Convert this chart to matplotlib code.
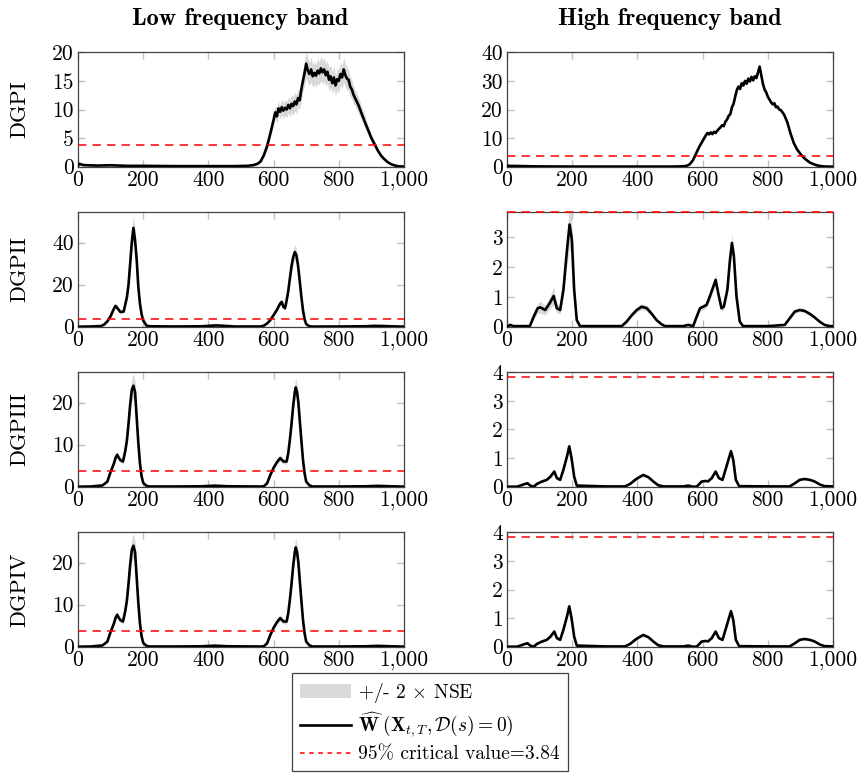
import matplotlib
matplotlib.use('Agg')
import matplotlib.pyplot as plt
from matplotlib.patches import Patch
from matplotlib.lines import Line2D

plt.rcParams['font.family'] = 'serif'
plt.rcParams['font.serif'] = ['cmr10']
plt.rcParams['mathtext.fontset'] = 'cm'
plt.rcParams['axes.formatter.use_mathtext'] = True

# ---- data ----
crit = 3.84
xticks = [0, 200, 400, 600, 800, 1000]
xticklabels = ['0', '200', '400', '600', '800', '1,000']
row_names = ['DGPI', 'DGPII', 'DGPIII', 'DGPIV']

# DGPI, low band
x_low1 = [0, 5, 15, 30, 60, 100, 150, 200, 300, 400,
          480, 520, 540, 550, 560, 570, 580, 590, 600, 605,
          610, 615, 620, 625, 630, 635, 640, 645, 650, 655,
          660, 665, 670, 675, 680, 685, 690, 695, 700, 705,
          710, 715, 720, 725, 730, 735, 740, 745, 750, 755,
          760, 765, 770, 775, 780, 785, 790, 795, 800, 805,
          810, 815, 820, 825, 830, 835, 840, 845, 850, 860,
          870, 880, 890, 900, 910, 920, 930, 940, 950, 960,
          970, 980, 990, 1000]
w_low1 = [0.2, 0.5, 0.3, 0.25, 0.2, 0.25, 0.15, 0.15, 0.1, 0.1,
          0.1, 0.15, 0.3, 0.5, 0.9, 2.0, 3.6, 5.8, 8.2, 9.5,
          8.8, 10.2, 9.6, 10.4, 9.8, 10.3, 10.0, 10.8, 10.2, 11.0,
          10.6, 11.4, 10.9, 12.0, 11.6, 13.5, 15.0, 16.4, 18.0, 16.8,
          16.2, 17.0, 15.8, 16.4, 15.9, 16.8, 16.3, 17.2, 16.5, 17.0,
          16.0, 16.6, 15.2, 15.8, 14.6, 15.6, 14.2, 15.3, 15.0, 16.2,
          15.6, 17.0, 16.0, 15.4, 15.2, 14.0, 13.5, 12.6, 12.0, 10.8,
          9.3, 7.8, 6.4, 5.0, 3.9, 2.8, 1.9, 1.3, 0.8, 0.45,
          0.25, 0.1, 0.05, 0.02]
nse_low1 = [0.05, 0.1, 0.05, 0.05, 0.03, 0.03, 0.02, 0.02, 0.02, 0.02,
            0.02, 0.03, 0.05, 0.08, 0.12, 0.2, 0.3, 0.4, 0.5, 0.6,
            0.6, 0.6, 0.6, 0.7, 0.7, 0.7, 0.7, 0.7, 0.7, 0.8,
            0.8, 0.8, 0.8, 0.8, 0.8, 0.9, 1.0, 1.1, 1.2, 1.1,
            1.0, 1.1, 1.0, 1.0, 1.0, 1.1, 1.0, 1.1, 1.0, 1.1,
            1.0, 1.0, 1.0, 1.0, 0.9, 1.0, 0.9, 1.0, 1.0, 1.0,
            1.0, 1.1, 1.0, 1.0, 0.9, 0.9, 0.8, 0.8, 0.7, 0.7,
            0.6, 0.5, 0.4, 0.35, 0.3, 0.2, 0.15, 0.1, 0.08, 0.05,
            0.03, 0.02, 0.01, 0.01]

# DGPI, high band
x_high1 = [0, 100, 200, 300, 400, 500, 530, 550, 560, 570,
           580, 590, 600, 610, 615, 620, 625, 630, 635, 640,
           645, 650, 655, 660, 665, 670, 675, 680, 685, 690,
           695, 700, 705, 710, 715, 720, 725, 730, 735, 740,
           745, 750, 755, 760, 765, 770, 775, 780, 785, 790,
           795, 800, 805, 810, 815, 820, 825, 830, 835, 840,
           845, 850, 860, 870, 880, 890, 900, 910, 920, 930,
           940, 950, 960, 970, 980, 990, 1000]
w_high1 = [0.3, 0.1, 0.05, 0.05, 0.05, 0.05, 0.1, 0.25, 0.8, 2.2,
           4.6, 7.0, 9.0, 11.0, 11.8, 11.3, 12.0, 11.4, 12.2, 11.8,
           12.6, 13.2, 13.8, 14.5, 14.2, 15.8, 16.5, 17.8, 18.4, 20.8,
           22.0, 24.5, 26.8, 28.0, 27.2, 29.2, 28.4, 30.0, 29.0, 30.8,
           29.8, 31.4, 30.2, 31.6, 31.0, 33.0, 35.0, 32.0, 29.0, 27.0,
           26.0, 24.5, 23.5, 22.5, 21.8, 22.2, 20.8, 21.0, 20.0, 19.8,
           19.0, 18.2, 15.5, 11.5, 8.2, 6.0, 4.5, 3.2, 2.2, 1.4,
           0.9, 0.5, 0.25, 0.12, 0.05, 0.02, 0.01]
nse_high1 = [0.02, 0.01, 0.01, 0.01, 0.01, 0.01, 0.02, 0.03, 0.05, 0.08,
             0.1, 0.15, 0.2, 0.2, 0.2, 0.2, 0.2, 0.2, 0.2, 0.2,
             0.2, 0.2, 0.2, 0.25, 0.25, 0.25, 0.25, 0.3, 0.3, 0.3,
             0.3, 0.3, 0.3, 0.3, 0.3, 0.3, 0.3, 0.3, 0.3, 0.3,
             0.3, 0.3, 0.3, 0.3, 0.3, 0.3, 0.35, 0.3, 0.3, 0.3,
             0.3, 0.3, 0.3, 0.3, 0.25, 0.25, 0.25, 0.25, 0.25, 0.25,
             0.25, 0.2, 0.2, 0.15, 0.12, 0.1, 0.08, 0.06, 0.05, 0.04,
             0.03, 0.02, 0.01, 0.01, 0.01, 0.01, 0.01]

# DGPII, low band
x_low2 = [0, 40, 70, 80, 90, 100, 110, 115, 120, 130,
          140, 150, 155, 160, 165, 170, 175, 180, 185, 190,
          195, 200, 210, 220, 300, 380, 410, 425, 440, 480,
          560, 570, 580, 590, 600, 610, 615, 620, 625, 630,
          635, 640, 645, 650, 655, 660, 665, 670, 675, 680,
          685, 690, 695, 700, 710, 720, 800, 880, 910, 940,
          970, 1000]
w_low2 = [0.0, 0.1, 0.3, 1.0, 2.5, 5.0, 8.5, 9.9, 9.0, 7.0,
          7.2, 14.0, 20.0, 30.0, 40.0, 47.0, 41.0, 32.0, 19.0, 11.0,
          6.0, 3.0, 0.5, 0.2, 0.1, 0.2, 0.5, 0.6, 0.5, 0.1,
          0.1, 0.5, 1.5, 3.2, 5.5, 8.0, 9.5, 11.0, 11.8, 9.5,
          8.8, 12.5, 17.0, 23.0, 28.8, 33.0, 35.5, 34.0, 29.0, 22.0,
          14.5, 8.0, 3.5, 1.2, 0.2, 0.05, 0.1, 0.2, 0.4, 0.3,
          0.15, 0.05]
nse_low2 = [0.0, 0.0, 0.02, 0.05, 0.1, 0.2, 0.4, 0.5, 0.5, 0.4,
            0.4, 0.8, 1.2, 1.8, 2.4, 3.0, 2.6, 2.0, 1.3, 0.8,
            0.4, 0.2, 0.05, 0.01, 0.01, 0.01, 0.03, 0.04, 0.03, 0.01,
            0.01, 0.03, 0.08, 0.15, 0.3, 0.4, 0.5, 0.6, 0.6, 0.5,
            0.5, 0.6, 0.9, 1.2, 1.5, 1.7, 1.8, 1.7, 1.5, 1.1,
            0.7, 0.4, 0.2, 0.05, 0.01, 0.0, 0.01, 0.01, 0.02, 0.02,
            0.01, 0.0]

# DGPII, high band
x_high2 = [0, 10, 20, 70, 82, 94, 102, 117, 131, 143,
           153, 163, 173, 184, 192, 199, 206, 214, 224, 300,
           352, 367, 383, 398, 413, 429, 444, 459, 474, 485,
           540, 556, 571, 582, 592, 602, 612, 622, 633, 640,
           648, 658, 665, 676, 684, 690, 696, 704, 714, 724,
           800, 852, 867, 883, 898, 913, 929, 944, 959, 974,
           990, 1000]
w_high2 = [0.0, 0.06, 0.02, 0.02, 0.34, 0.62, 0.65, 0.56, 0.79, 1.03,
           0.62, 0.56, 1.24, 2.58, 3.43, 2.92, 1.24, 0.22, 0.02, 0.02,
           0.02, 0.17, 0.39, 0.56, 0.67, 0.62, 0.43, 0.22, 0.08, 0.02,
           0.02, 0.06, 0.02, 0.34, 0.62, 0.67, 0.73, 1.01, 1.35, 1.57,
           1.12, 0.62, 0.67, 1.24, 2.25, 2.81, 2.36, 1.01, 0.17, 0.02,
           0.02, 0.06, 0.28, 0.51, 0.56, 0.53, 0.43, 0.31, 0.17, 0.06,
           0.02, 0.02]
nse_high2 = [0.0, 0.01, 0.0, 0.0, 0.05, 0.08, 0.1, 0.08, 0.1, 0.15,
             0.08, 0.07, 0.12, 0.25, 0.4, 0.3, 0.12, 0.02, 0.0, 0.0,
             0.0, 0.02, 0.03, 0.04, 0.05, 0.05, 0.04, 0.02, 0.01, 0.0,
             0.0, 0.01, 0.0, 0.03, 0.05, 0.05, 0.05, 0.07, 0.08, 0.1,
             0.07, 0.05, 0.05, 0.08, 0.12, 0.15, 0.12, 0.06, 0.01, 0.0,
             0.0, 0.01, 0.02, 0.03, 0.03, 0.03, 0.03, 0.02, 0.01, 0.01,
             0.0, 0.0]

# DGPIII, low band
x_low3 = [0, 40, 60, 75, 90, 100, 110, 115, 120, 125,
          130, 138, 145, 150, 155, 160, 165, 170, 175, 180,
          185, 190, 195, 200, 210, 220, 300, 380, 420, 460,
          560, 570, 580, 590, 600, 610, 620, 630, 640, 645,
          650, 655, 660, 665, 668, 672, 676, 680, 685, 690,
          695, 700, 710, 720, 800, 880, 920, 960, 1000]
w_low3 = [0.0, 0.05, 0.2, 0.3, 1.2, 3.5, 5.5, 6.8, 7.6, 6.9,
          6.3, 6.0, 8.5, 11.0, 15.0, 19.5, 23.0, 24.0, 22.5, 16.5,
          10.5, 5.6, 2.5, 0.9, 0.2, 0.05, 0.05, 0.1, 0.25, 0.1,
          0.05, 0.1, 0.8, 2.8, 4.5, 5.8, 6.8, 6.0, 6.0, 8.0,
          11.2, 15.0, 19.2, 22.5, 23.6, 22.5, 20.0, 16.0, 11.2, 6.5,
          3.2, 1.2, 0.3, 0.05, 0.05, 0.1, 0.2, 0.1, 0.02]
nse_low3 = [0.0, 0.0, 0.01, 0.02, 0.05, 0.15, 0.25, 0.3, 0.35, 0.3,
            0.3, 0.3, 0.4, 0.55, 0.8, 1.1, 1.4, 1.5, 1.3, 0.9,
            0.6, 0.3, 0.15, 0.05, 0.01, 0.0, 0.0, 0.01, 0.02, 0.01,
            0.0, 0.01, 0.05, 0.15, 0.25, 0.3, 0.35, 0.3, 0.3, 0.4,
            0.5, 0.7, 0.9, 1.0, 1.1, 1.0, 0.9, 0.7, 0.5, 0.3,
            0.15, 0.05, 0.02, 0.0, 0.0, 0.01, 0.01, 0.01, 0.0]

# DGPIII, high band
x_high3 = [0, 31, 41, 56, 63, 71, 82, 92, 107, 122,
           133, 145, 153, 163, 173, 184, 191, 198, 206, 214,
           300, 362, 378, 393, 408, 418, 434, 449, 464, 480,
           540, 556, 570, 582, 597, 607, 617, 628, 640, 650,
           661, 673, 687, 694, 702, 712, 800, 867, 883, 898,
           913, 929, 944, 959, 974, 1000]
w_high3 = [0.0, 0.0, 0.04, 0.1, 0.12, 0.04, 0.0, 0.1, 0.18, 0.24,
           0.35, 0.53, 0.3, 0.24, 0.59, 1.06, 1.41, 1.0, 0.35, 0.04,
           0.01, 0.01, 0.1, 0.24, 0.35, 0.41, 0.33, 0.18, 0.05, 0.01,
           0.01, 0.04, 0.0, 0.0, 0.18, 0.2, 0.19, 0.3, 0.53, 0.3,
           0.24, 0.7, 1.24, 0.94, 0.24, 0.02, 0.01, 0.01, 0.12, 0.24,
           0.27, 0.24, 0.18, 0.08, 0.02, 0.01]
nse_high3 = [0.0, 0.0, 0.01, 0.01, 0.01, 0.01, 0.0, 0.01, 0.02, 0.02,
             0.03, 0.04, 0.03, 0.02, 0.04, 0.06, 0.08, 0.06, 0.03, 0.01,
             0.0, 0.0, 0.01, 0.02, 0.02, 0.03, 0.02, 0.01, 0.01, 0.0,
             0.0, 0.01, 0.0, 0.0, 0.01, 0.02, 0.02, 0.02, 0.03, 0.02,
             0.02, 0.04, 0.06, 0.05, 0.02, 0.0, 0.0, 0.0, 0.01, 0.02,
             0.02, 0.02, 0.01, 0.01, 0.0, 0.0]

# DGPIV looks the same as DGPIII in both bands
x_low4, w_low4, nse_low4 = x_low3, w_low3, nse_low3
x_high4, w_high4, nse_high4 = x_high3, w_high3, nse_high3

low = [(x_low1, w_low1, nse_low1), (x_low2, w_low2, nse_low2),
       (x_low3, w_low3, nse_low3), (x_low4, w_low4, nse_low4)]
high = [(x_high1, w_high1, nse_high1), (x_high2, w_high2, nse_high2),
        (x_high3, w_high3, nse_high3), (x_high4, w_high4, nse_high4)]

low_ylim = [20, 54.4, 27.2, 27.2]
low_yticks = [[0, 5, 10, 15, 20], [0, 20, 40], [0, 10, 20], [0, 10, 20]]
high_ylim = [40, 3.84, 4, 4]
high_yticks = [[0, 10, 20, 30, 40], [0, 1, 2, 3], [0, 1, 2, 3, 4], [0, 1, 2, 3, 4]]

band_color = '#d9d9d9'

# ---- figure ----
fig = plt.figure(figsize=(8.6, 7.8), dpi=100)

col_left = [78 / 860, 507 / 860]
ax_w = 326 / 860
ax_h = 114.4 / 780
row_bottom = [1 - 166.7 / 780, 1 - 326.7 / 780, 1 - 486.7 / 780, 1 - 646.7 / 780]


def draw(ax, x, w, nse, top, yticks):
    lo = [a - 2 * b for a, b in zip(w, nse)]
    hi = [a + 2 * b for a, b in zip(w, nse)]
    ax.fill_between(x, lo, hi, color=band_color, lw=0, zorder=1)
    ax.plot(x, w, color='black', lw=1.9, zorder=3)
    ax.axhline(crit, color='red', lw=1.1, dashes=(5.5, 4), zorder=4, clip_on=False)
    ax.set_xlim(0, 1000)
    ax.set_ylim(0, top)
    ax.set_xticks(xticks)
    ax.set_xticklabels(xticklabels)
    ax.set_yticks(yticks)
    ax.set_yticklabels([str(t) for t in yticks])
    ax.tick_params(direction='in', length=5, width=1, color='0.75',
                   top=True, right=True, labelsize=15.5, pad=3)
    for s in ax.spines.values():
        s.set_color('0.25')
        s.set_linewidth(0.9)


for i in range(4):
    axl = fig.add_axes([col_left[0], row_bottom[i], ax_w, ax_h])
    draw(axl, *low[i], low_ylim[i], low_yticks[i])
    axl.set_ylabel(row_names[i], fontsize=16)
    axl.yaxis.set_label_coords(-0.148, 0.5)

    axr = fig.add_axes([col_left[1], row_bottom[i], ax_w, ax_h])
    draw(axr, *high[i], high_ylim[i], high_yticks[i])

fig.text(240 / 860, 1 - 19 / 780, 'Low frequency band', family='cmb10',
         fontsize=17.5, ha='center', va='center')
fig.text(670 / 860, 1 - 19 / 780, 'High frequency band', family='cmb10',
         fontsize=17.5, ha='center', va='center')

handles = [Patch(facecolor=band_color, edgecolor='none'),
           Line2D([], [], color='black', lw=1.9),
           Line2D([], [], color='red', lw=1.1, dashes=(3, 3))]
labels = [r'$+$/- 2 $\times$ NSE',
          r'$\widehat{\mathbf{W}}\;(\mathbf{X}_{t,T}, \mathcal{D}(s) = 0)$',
          '95% critical value=3.84']
leg = fig.legend(handles, labels, loc='upper center', bbox_to_anchor=(0.5, 1 - 673 / 780),
                 fontsize=14, frameon=True, fancybox=False, framealpha=1,
                 edgecolor='0.25', handlelength=2.6, handletextpad=0.4,
                 borderpad=0.4, labelspacing=0.3, borderaxespad=0)
leg.get_frame().set_linewidth(0.9)

fig.savefig('out.png', dpi=100)
